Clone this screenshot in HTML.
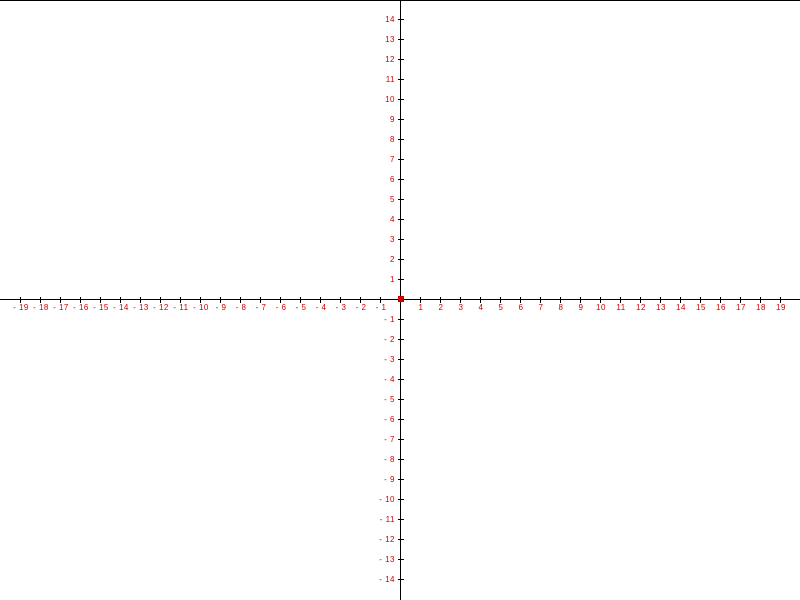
<!DOCTYPE html>
<html><head><meta charset="utf-8"><style>
html,body{margin:0;padding:0;background:#fff;width:800px;height:600px;overflow:hidden}
svg text{font-family:"Liberation Sans",sans-serif;font-size:8px;fill:#d00000;letter-spacing:0.5px}
</style></head><body>
<svg id="chart" width="800" height="600" xmlns="http://www.w3.org/2000/svg">
<line x1="0" y1="0.5" x2="800" y2="0.5" stroke="#000"/>
<g id="g"></g>
</svg>
<script>
const xTicks=[-19,-18,-17,-16,-15,-14,-13,-12,-11,-10,-9,-8,-7,-6,-5,-4,-3,-2,-1,1,2,3,4,5,6,7,8,9,10,11,12,13,14,15,16,17,18,19];
const yTicks=[-14,-13,-12,-11,-10,-9,-8,-7,-6,-5,-4,-3,-2,-1,1,2,3,4,5,6,7,8,9,10,11,12,13,14];
const origin=[0,0];
const X=v=>400+v*20, Y=v=>299-v*20;
const g=document.getElementById('g'),NS='http://www.w3.org/2000/svg';
function mk(t,a){const e=document.createElementNS(NS,t);for(const k in a)e.setAttribute(k,a[k]);g.appendChild(e);return e;}
let e=mk('line',{x1:0,y1:299.5,x2:800,y2:299.5,stroke:'#000'});


e=mk('line',{x1:400.5,y1:0,x2:400.5,y2:600,stroke:'#000'});


xTicks.forEach(v=>{
 e=mk('line',{x1:X(v)+0.5,y1:297,x2:X(v)+0.5,y2:303,stroke:'#000'});
 
 
 e=mk('text',{x:X(v)+1,y:310,'text-anchor':'middle'});e.textContent=(v<0?'- '+(-v):String(v));
 
 
});
yTicks.forEach(v=>{
 e=mk('line',{x1:398,y1:Y(v)+0.5,x2:404,y2:Y(v)+0.5,stroke:'#000'});
 
 
 e=mk('text',{x:395,y:Y(v)+3,'text-anchor':'end'});e.textContent=(v<0?'- '+(-v):String(v));
 
 
});
e=mk('rect',{x:X(origin[0])-2,y:Y(origin[1])-3,width:6,height:6,fill:'#d00000'});


</script>
</body></html>
